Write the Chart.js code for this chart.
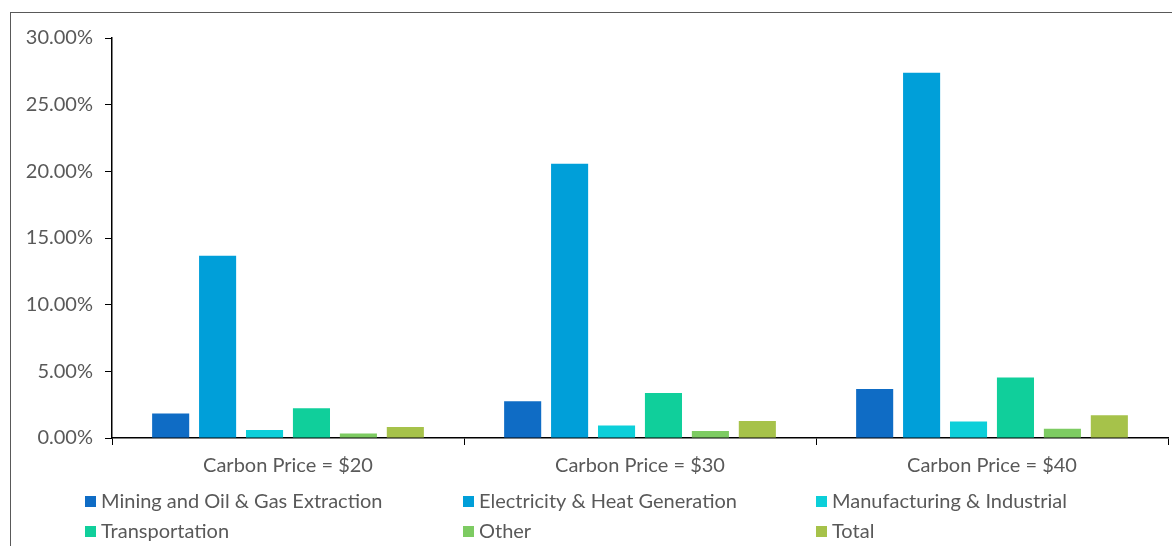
<!DOCTYPE html>
<html>
<head>
<meta charset="utf-8">
<script src="https://cdn.jsdelivr.net/npm/chart.js@4"></script>
<style>
  html, body { margin: 0; padding: 0; background: #fff; overflow: hidden; }
  #wrap { position: relative; width: 1172px; height: 546px; }
</style>
</head>
<body>
<div id="wrap"><canvas id="myChart" width="1172" height="546"></canvas></div>
<script>
var categories = ["Carbon Price = $20", "Carbon Price = $30", "Carbon Price = $40"];
var mining = [1.83, 2.75, 3.68];
var electricity = [13.67, 20.57, 27.4];
var manufacturing = [0.6, 0.93, 1.23];
var transportation = [2.23, 3.38, 4.53];
var other = [0.33, 0.53, 0.7];
var total = [0.83, 1.28, 1.7];
var yTicks = [0, 5, 10, 15, 20, 25, 30];

var fontFamily = "Lato, 'Open Sans', sans-serif";
var textColor = "#595959";

// frame around the chart, as in the original (only top and left edges are visible)
var framePlugin = {
    id: 'frame',
    beforeDraw: function (chart) {
        var ctx = chart.ctx;
        ctx.save();
        ctx.strokeStyle = "#595959";
        ctx.lineWidth = 1;
        ctx.strokeRect(10.5, 12.5, 1300, 700);
        ctx.restore();
    }
};

// legend laid out as a 3 column grid like Excel does
var gridLegend = {
    id: 'gridLegend',
    afterDraw: function (chart) {
        var ctx = chart.ctx;
        var cols = [85, 463, 816];
        var rows = [501, 531];
        ctx.save();
        ctx.font = "20px " + fontFamily;
        ctx.textBaseline = "middle";
        chart.data.datasets.forEach(function (ds, i) {
            var x = cols[i % 3];
            var y = rows[Math.floor(i / 3)];
            ctx.fillStyle = ds.backgroundColor;
            ctx.fillRect(x, y - 5, 11, 11);
            ctx.fillStyle = textColor;
            ctx.fillText(ds.label, x + 16, y + 1);
        });
        ctx.restore();
    }
};

var ctx = document.getElementById('myChart').getContext('2d');

var chart = new Chart(ctx, {
    type: 'bar',
    data: {
        labels: categories,
        datasets: [
            { label: "Mining and Oil & Gas Extraction", data: mining, backgroundColor: "#0F6CC5" },
            { label: "Electricity & Heat Generation", data: electricity, backgroundColor: "#009FD9" },
            { label: "Manufacturing & Industrial", data: manufacturing, backgroundColor: "#0CCFD9" },
            { label: "Transportation", data: transportation, backgroundColor: "#10CF9B" },
            { label: "Other", data: other, backgroundColor: "#7DCB62" },
            { label: "Total", data: total, backgroundColor: "#A6C24A" }
        ]
    },
    options: {
        responsive: false,
        animation: false,
        devicePixelRatio: 1,
        categoryPercentage: 0.80,
        barPercentage: 0.79,
        layout: { padding: { left: 0, top: 38, right: 4, bottom: 68 } },
        plugins: {
            legend: { display: false },
            tooltip: { enabled: false }
        },
        scales: {
            x: {
                grid: {
                    display: true,
                    drawOnChartArea: false,
                    color: "#000",
                    tickLength: 7,
                    offset: true
                },
                border: { color: "#000", width: 1.5 },
                ticks: {
                    color: textColor,
                    font: { family: fontFamily, size: 20 },
                    padding: 9
                },
                afterFit: function (s) { s.height = 40; }
            },
            y: {
                min: 0,
                max: 30,
                afterBuildTicks: function (s) {
                    s.ticks = yTicks.map(function (v) { return { value: v }; });
                },
                grid: {
                    display: true,
                    drawOnChartArea: false,
                    color: "#000",
                    tickLength: 7
                },
                border: { color: "#000", width: 1.5 },
                ticks: {
                    color: textColor,
                    font: { family: fontFamily, size: 20 },
                    padding: 12,
                    callback: function (v) { return v.toFixed(2) + "%"; }
                },
                afterFit: function (s) { s.width = 112; }
            }
        }
    },
    plugins: [framePlugin, gridLegend]
});
</script>
</body>
</html>
